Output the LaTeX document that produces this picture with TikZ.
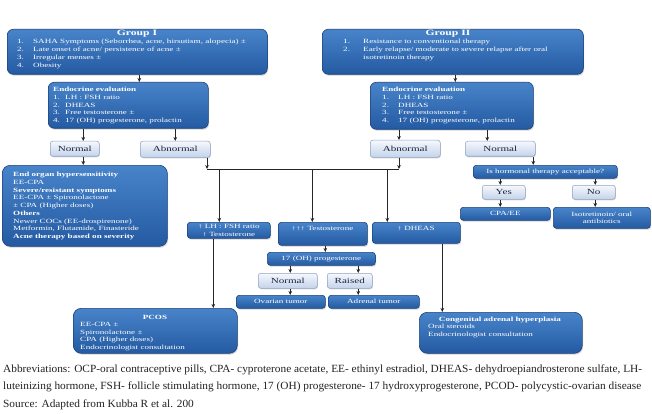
\documentclass[tikz,border=0pt]{standalone}
\usepackage{fontspec}
\setmainfont{Liberation Serif}
\newfontfamily\bxf[FakeStretch=1.42]{Liberation Serif}
\newfontfamily\abf[FakeStretch=1.03]{Liberation Serif}
\usetikzlibrary{arrows.meta,shadows,calc}
\definecolor{btop}{RGB}{72,132,202}
\definecolor{bbot}{RGB}{36,90,162}
\definecolor{bdr}{RGB}{28,66,122}
\definecolor{ltop}{RGB}{246,248,252}
\definecolor{lbot}{RGB}{196,211,234}
\definecolor{lbdr}{RGB}{140,162,196}
\definecolor{ltxt}{RGB}{28,36,64}
\definecolor{abtxt}{RGB}{34,34,34}
\begin{document}
\begin{tikzpicture}[x=1pt,y=1pt,
  bluebox/.style={draw=bdr, line width=0.6pt, rounded corners=6pt, top color=btop, bottom color=bbot,
    drop shadow={shadow xshift=0.8pt, shadow yshift=-1.4pt, opacity=0.35}, anchor=north west, inner sep=0pt,
    text=white, font=\bxf\fontsize{6.4}{7.7}\selectfont, align=center},
  smallbox/.style={bluebox, rounded corners=3pt},
  lightbox/.style={draw=lbdr, line width=0.5pt, rounded corners=2.5pt, top color=ltop, bottom color=lbot,
    drop shadow={shadow xshift=0.6pt, shadow yshift=-1pt, opacity=0.3}, anchor=north west, inner sep=0pt,
    text=ltxt, font=\bxf\fontsize{7.8}{9}\selectfont},
  wt/.style={text=white, font=\bxf\fontsize{6.4}{7.75}\selectfont, inner sep=0pt, align=left, anchor=north west},
  wtitle/.style={text=white, font=\bxf\bfseries\fontsize{8.2}{9}\selectfont, inner sep=0pt},
  arr/.style={-{Stealth[length=4pt,width=3.6pt]}, line width=0.8pt, draw=black!85},
  ln/.style={line width=0.8pt, draw=black!85},
  abbr/.style={text=abtxt, font=\abf\fontsize{11}{12}\selectfont, inner sep=0pt, anchor=base west}
]
\useasboundingbox[fill=white] (0,0) rectangle (652,-414);

% ---------- boxes ----------
\node[bluebox, minimum width=260pt, minimum height=45pt] (g1) at (7,-29) {};
\node[bluebox, minimum width=261pt, minimum height=45pt] (g2) at (322,-29) {};
\node[bluebox, minimum width=160pt, minimum height=46pt] (e1) at (48,-82) {};
\node[bluebox, minimum width=163pt, minimum height=47pt] (e2) at (370,-82) {};
\node[lightbox, minimum width=49pt, minimum height=15pt] (n1) at (50,-141) {Normal};
\node[lightbox, minimum width=70pt, minimum height=16pt] (a1) at (140,-141) {Abnormal};
\node[lightbox, minimum width=70pt, minimum height=17pt] (a2) at (370,-140) {Abnormal};
\node[lightbox, minimum width=70pt, minimum height=15pt] (n2) at (465,-141) {Normal};
\node[bluebox, rounded corners=8pt, minimum width=165pt, minimum height=81pt] (t1) at (2,-165) {};
\node[smallbox, minimum width=144pt, minimum height=13pt] (q) at (473,-165) {Is hormonal therapy acceptable?};
\node[lightbox, minimum width=43pt, minimum height=14pt] (yes) at (482,-185) {Yes};
\node[lightbox, minimum width=43pt, minimum height=14pt] (no) at (572,-185) {No};
\node[smallbox, minimum width=90pt, minimum height=13pt] (cpa) at (460,-207) {CPA/EE};
\node[smallbox, minimum width=97pt, minimum height=21pt] (iso) at (553,-207) {Isotretinoin/ oral\\antibiotics};
\node[smallbox, minimum width=83pt, minimum height=16pt] (lh) at (187,-222) {↑ LH : FSH ratio\\↑ Testosterone};
\node[smallbox, minimum width=89pt, minimum height=23pt] (tt) at (278,-222) {};
\node[smallbox, minimum width=88pt, minimum height=21pt] (dh) at (372,-222) {};
\node[smallbox, minimum width=108pt, minimum height=13pt] (oh) at (267,-252) {17 (OH) progesterone};
\node[lightbox, minimum width=59pt, minimum height=15pt] (n3) at (258,-273) {Normal};
\node[lightbox, minimum width=45pt, minimum height=15pt] (r) at (327,-273) {Raised};
\node[smallbox, minimum width=89pt, minimum height=13pt] (ov) at (236,-295) {Ovarian tumor};
\node[smallbox, minimum width=91pt, minimum height=13pt] (ad) at (328,-295) {Adrenal tumor};
\node[bluebox, rounded corners=8pt, minimum width=164pt, minimum height=45pt] (pcos) at (73,-308) {};
\node[bluebox, rounded corners=8pt, minimum width=163pt, minimum height=41pt] (cah) at (419,-312) {};

% ---------- texts inside boxes ----------
\node[wtitle] (g1h) at (137,-34) {Group I};
\node[wt, font=\bxf\fontsize{6.4}{8}\selectfont] (g1l) at (17,-39) {%
\makebox[16pt][l]{1.}SAHA Symptoms (Seborrhea, acne, hirsutism, alopecia) ±\\
\makebox[16pt][l]{2.}Late onset of acne/ persistence of acne ±\\
\makebox[16pt][l]{3.}Irregular menses ±\\
\makebox[16pt][l]{4.}Obesity};
\node[wtitle] (g2h) at (448,-34) {Group II};
\node[wt, font=\bxf\fontsize{6.4}{8}\selectfont] (g2l) at (343,-39) {%
\makebox[20pt][l]{1.}Resistance to conventional therapy\\
\makebox[20pt][l]{2.}Early relapse/ moderate to severe relapse after oral\\
\makebox[20pt][l]{}isotretinoin therapy};
\node[wt] (e1l) at (53,-87) {%
\textbf{Endocrine evaluation}\\
\makebox[12pt][l]{1.}LH : FSH ratio\\
\makebox[12pt][l]{2.}DHEAS\\
\makebox[12pt][l]{3.}Free testosterone ±\\
\makebox[12pt][l]{4.}17 (OH) progesterone, prolactin};
\node[wt] (e2l) at (382,-87) {%
\textbf{Endocrine evaluation}\\
\makebox[16pt][l]{1.}LH : FSH ratio\\
\makebox[16pt][l]{2.}DHEAS\\
\makebox[16pt][l]{3.}Free testosterone ±\\
\makebox[16pt][l]{4.}17 (OH) progesterone, prolactin};
\node[wt] (t1l) at (13,-172) {%
\textbf{End organ hypersensitivity}\\
EE-CPA\\
\textbf{Severe/resistant symptoms}\\
EE-CPA ± Spironolactone\\
± CPA (Higher doses)\\
\textbf{Others}\\
Newer COCs (EE-drospirenone)\\
Metformin, Flutamide, Finasteride\\
\textbf{Acne therapy based on severity}};
\node[text=white, font=\bxf\fontsize{6.4}{7.7}\selectfont, inner sep=0pt] (ttl) at (322.5,-228) {↑↑↑ Testosterone};
\node[text=white, font=\bxf\fontsize{6.4}{7.7}\selectfont, inner sep=0pt] (dhl) at (416,-228) {↑ DHEAS};
\node[text=white, font=\bxf\bfseries\fontsize{6.4}{7.7}\selectfont, inner sep=0pt] (pcosh) at (155,-317) {PCOS};
\node[wt] (pcosl) at (80,-322) {EE-CPA ±\\Spironolactone ±\\CPA (Higher doses)\\Endocrinologist consultation};
\node[text=white, font=\bxf\bfseries\fontsize{6.4}{7.7}\selectfont, inner sep=0pt] (cahh) at (500,-320) {Congenital adrenal hyperplasia};
\node[wt] (cahl) at (428,-324) {Oral steroids\\Endocrinologist consultation};

% ---------- connectors ----------
\coordinate (barL) at (207,-169);
\coordinate (barR) at (399,-169);
\draw[arr] ([xshift=2pt]g1.south) -- ([xshift=2pt]g1.south |- e1.north);
\draw[arr] ([xshift=2.5pt]g2.south) -- ([xshift=2.5pt]g2.south |- e2.north);
\draw[arr] ([xshift=8.5pt]n1.north |- e1.south) -- ([xshift=8.5pt]n1.north);
\draw[arr] (a1.north |- e1.south) -- (a1.north);
\draw[arr] ([xshift=8.5pt]n1.south) -- ([xshift=8.5pt]n1.south |- t1.north);
\draw[arr] (a1.south -| barL) -- (barL);
\draw[arr] (e2.south -| barR) -- (a2.north -| barR);
\draw[arr] (a2.south -| barR) -- (barR);
\draw[ln] (barL) -- (barR);
\draw[arr] ([xshift=-9.5pt]lh.north |- barL) -- ([xshift=-9.5pt]lh.north);
\draw[arr] ([xshift=-10.5pt]tt.north |- barL) -- ([xshift=-10.5pt]tt.north);
\draw[arr] ([xshift=-29pt]dh.north |- barL) -- ([xshift=-29pt]dh.north);
\draw[arr] ([xshift=-13pt]n2.north |- e2.south) -- ([xshift=-13pt]n2.north);
\draw[arr] ([xshift=33pt]n2.south) -- ([xshift=33pt]n2.south |- q.north);
\draw[arr] ([xshift=-3.5pt]yes.north |- q.south) -- ([xshift=-3.5pt]yes.north);
\draw[arr] ([xshift=1.5pt]no.north |- q.south) -- ([xshift=1.5pt]no.north);
\draw[arr] ([xshift=-3.5pt]yes.south) -- ([xshift=-3.5pt]yes.south |- cpa.north);
\draw[arr] ([xshift=1.5pt]no.south) -- ([xshift=1.5pt]no.south |- iso.north);
\draw[arr] ([xshift=-15.5pt]lh.south) -- ([xshift=-15.5pt]lh.south |- pcos.north);
\draw[arr] ([xshift=2.5pt]tt.south) -- ([xshift=2.5pt]tt.south |- oh.north);
\draw[arr] ([xshift=2.5pt]n3.north |- oh.south) -- ([xshift=2.5pt]n3.north);
\draw[arr] ([xshift=8.5pt]r.north |- oh.south) -- ([xshift=8.5pt]r.north);
\draw[arr] ([xshift=2.5pt]n3.south) -- ([xshift=2.5pt]n3.south |- ov.north);
\draw[arr] ([xshift=8.5pt]r.south) -- ([xshift=8.5pt]r.south |- ad.north);
\draw[arr] ([xshift=26pt]dh.south) -- ([xshift=26pt]dh.south |- cah.north);

% ---------- footnote ----------
\node[abbr] (ab1) at (3,-372) {Abbreviations: OCP-oral contraceptive pills, CPA- cyproterone acetate, EE- ethinyl estradiol, DHEAS- dehydroepiandrosterone sulfate, LH-};
\node[abbr] (ab2) at (3,-389) {luteinizing hormone, FSH- follicle stimulating hormone, 17 (OH) progesterone- 17 hydroxyprogesterone, PCOD- polycystic-ovarian disease};
\node[abbr] (src) at (3,-407) {Source: Adapted from Kubba R et al. 200};
\end{tikzpicture}
\end{document}
